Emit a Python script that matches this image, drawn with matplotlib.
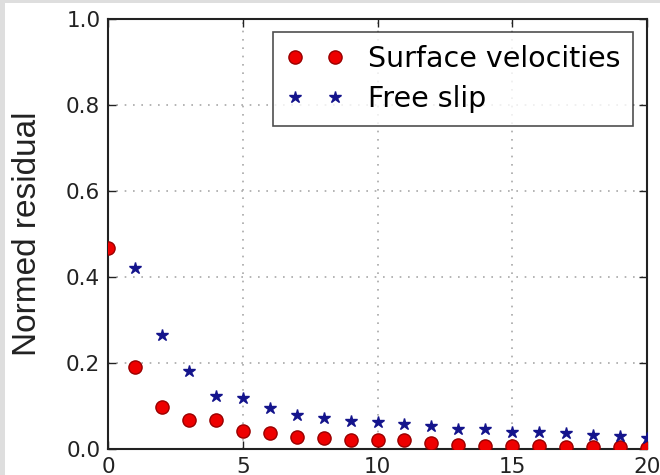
import matplotlib
matplotlib.use("Agg")
import matplotlib.pyplot as plt
from matplotlib.patches import Rectangle

# Normed residual per iteration
iter_surface = list(range(0, 21))
res_surface = [0.467, 0.19, 0.098, 0.068, 0.068, 0.042, 0.037, 0.028, 0.026, 0.021,
               0.021, 0.021, 0.014, 0.009, 0.007, 0.007, 0.006, 0.005, 0.004, 0.004, 0.003]
iter_free = list(range(1, 21))
res_free = [0.42, 0.265, 0.181, 0.123, 0.119, 0.095, 0.079, 0.072, 0.065, 0.063,
            0.057, 0.053, 0.047, 0.047, 0.040, 0.039, 0.037, 0.033, 0.030, 0.026]

x_ticks = [0, 5, 10, 15, 20]
y_ticks = [0.0, 0.2, 0.4, 0.6, 0.8, 1.0]

plt.rcParams['font.family'] = ['DejaVu Sans']

fig = plt.figure(figsize=(6.6, 4.75), dpi=100)
fig.patch.set_facecolor('white')
# light frame on the left and top edges
fig.patches.append(Rectangle((0, 0), 5 / 660, 1, transform=fig.transFigure,
                             facecolor='#dedede', edgecolor='none', zorder=-1))
fig.patches.append(Rectangle((0, 1 - 3 / 475), 1, 3 / 475, transform=fig.transFigure,
                             facecolor='#dedede', edgecolor='none', zorder=-1))

ax = fig.add_axes([108 / 660, 1 - 449 / 475, (647 - 108) / 660, (449 - 19) / 475])

ax.plot(iter_surface, res_surface, 'o', color='#ee0000', markeredgecolor='#990000',
        markeredgewidth=1.0, markersize=9.5, label='Surface velocities', zorder=3)
ax.plot(iter_free, res_free, '*', color='#14148c', markeredgecolor='#14148c',
        markersize=9, label='Free slip', zorder=3)

ax.set_xlim(0, 20)
ax.set_ylim(0, 1.0)
ax.set_xticks(x_ticks)
ax.set_yticks(y_ticks)
ax.set_yticklabels([f'{v:.1f}' for v in y_ticks])
ax.tick_params(direction='in', top=True, right=True, length=6, width=1,
               labelsize=15.5, colors='#222222', pad=5.5)
for s in ax.spines.values():
    s.set_linewidth(1.5)
    s.set_color('#222222')

ax.grid(True, linestyle=(0, (1, 4)), color='#a8a8a8', linewidth=1.2)
ax.set_axisbelow(True)

ax.set_ylabel('Normed residual', fontsize=24, family=['Liberation Sans', 'DejaVu Sans'],
              color='#222222')
ax.yaxis.set_label_coords(-0.12, 0.5)

leg = ax.legend(loc='upper right', numpoints=2, fontsize=20.5, frameon=True, fancybox=False,
                borderpad=0.45, handlelength=2.0, handletextpad=0.86,
                bbox_to_anchor=(633 / 660, 1 - 32 / 475), bbox_transform=fig.transFigure,
                borderaxespad=0, labelspacing=0.42)
leg.get_frame().set_edgecolor('#222222')
leg.get_frame().set_linewidth(1.2)

fig.savefig('out.png', dpi=100)
